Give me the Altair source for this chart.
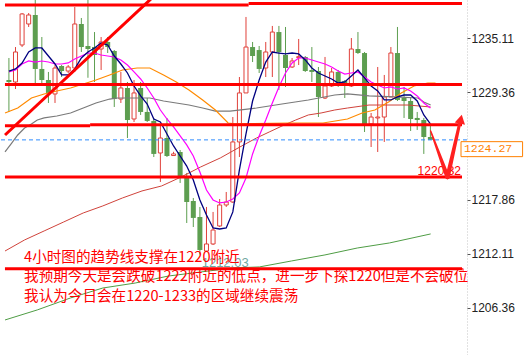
import altair as alt
import pandas as pd

# ---------------- 4-hour candles ----------------
opens = [1230.66, 1230.45, 1234.40, 1236.64, 1237.60, 1231.84, 1230.66, 1229.17, 1232.16, 1231.62,
         1231.94, 1236.64, 1234.29, 1234.18, 1233.97, 1234.72, 1233.76, 1228.63, 1229.81, 1226.50,
         1229.81, 1227.25, 1226.29, 1222.87, 1224.47, 1222.60, 1222.98, 1220.20, 1217.75, 1216.04,
         1212.41, 1213.16, 1215.08, 1217.32, 1217.64, 1224.05, 1229.28, 1234.18, 1233.86, 1231.94,
         1233.65, 1235.78, 1233.33, 1232.05, 1233.05, 1233.12, 1231.73, 1231.62, 1228.74, 1230.02,
         1231.52, 1230.56, 1230.02, 1233.97, 1233.54, 1225.97, 1226.61, 1226.71, 1228.85, 1233.54,
         1228.74, 1228.42, 1226.61, 1226.39, 1224.58]
highs = [1233.01, 1234.18, 1237.81, 1237.81, 1239.60, 1235.25, 1231.52, 1232.26, 1232.26, 1232.26,
         1238.45, 1237.28, 1239.60, 1235.78, 1235.25, 1235.25, 1233.86, 1231.52, 1230.45, 1230.66,
         1230.45, 1228.74, 1226.61, 1225.86, 1226.61, 1223.00, 1223.19, 1220.74, 1218.07, 1217.11,
         1217.11, 1216.58, 1217.96, 1218.71, 1226.71, 1230.98, 1237.39, 1234.72, 1234.29, 1234.72,
         1236.43, 1236.43, 1236.32, 1233.01, 1235.04, 1233.22, 1234.18, 1232.05, 1233.12, 1231.94,
         1231.73, 1230.66, 1235.14, 1235.78, 1233.65, 1227.14, 1232.05, 1231.20, 1234.18, 1236.32,
         1229.92, 1228.85, 1227.25, 1226.61, 1225.86]
lows = [1227.25, 1229.70, 1234.18, 1236.32, 1230.34, 1230.34, 1228.21, 1228.21, 1230.98, 1231.41,
        1231.52, 1233.65, 1230.90, 1230.45, 1231.73, 1233.54, 1227.78, 1228.21, 1224.47, 1226.18,
        1226.93, 1226.18, 1222.44, 1219.78, 1222.44, 1222.55, 1219.67, 1215.40, 1214.97, 1212.03,
        1212.31, 1213.05, 1214.97, 1217.11, 1217.54, 1222.44, 1229.28, 1232.58, 1231.41, 1230.98,
        1230.98, 1229.60, 1229.92, 1231.94, 1232.26, 1231.52, 1230.45, 1226.71, 1228.63, 1229.92,
        1229.92, 1228.74, 1229.92, 1233.44, 1225.11, 1223.51, 1222.98, 1224.05, 1228.85, 1228.42,
        1226.61, 1225.22, 1225.33, 1222.77, 1224.27]
closes = [1230.45, 1233.65, 1237.71, 1237.60, 1231.84, 1230.66, 1229.28, 1231.94, 1231.62, 1232.05,
          1236.64, 1234.18, 1233.97, 1233.33, 1234.72, 1234.18, 1228.63, 1229.81, 1226.39, 1229.28,
          1227.25, 1226.29, 1222.77, 1224.47, 1222.55, 1222.77, 1220.31, 1217.64, 1215.94, 1212.52,
          1213.16, 1214.65, 1217.32, 1217.64, 1224.05, 1229.28, 1234.18, 1233.22, 1231.84, 1233.65,
          1235.78, 1233.65, 1231.94, 1232.69, 1233.15, 1231.62, 1231.52, 1228.85, 1230.02, 1231.52,
          1230.34, 1230.02, 1233.97, 1233.54, 1225.97, 1226.71, 1226.71, 1228.85, 1233.54, 1228.53,
          1228.42, 1226.50, 1226.39, 1224.58, 1224.27]

# ---------------- moving averages ----------------
ma_navy = [1231.62, 1231.84, 1232.48, 1233.65, 1234.08, 1234.08, 1233.22, 1232.37, 1231.20, 1231.20,
           1231.84, 1233.01, 1233.65, 1234.08, 1234.61, 1234.40, 1233.22, 1232.37, 1231.41, 1230.02,
           1228.96, 1228.10, 1226.50, 1226.18, 1224.90, 1223.62, 1222.55, 1221.48, 1219.99, 1217.86,
           1216.26, 1214.87, 1214.76, 1214.87, 1216.58, 1221.06, 1224.90, 1228.42, 1230.66, 1232.58,
           1233.65, 1233.54, 1233.44, 1233.54, 1233.44, 1232.80, 1231.94, 1231.41, 1231.09, 1230.77,
           1230.34, 1230.45, 1231.09, 1231.73, 1230.88, 1230.02, 1229.49, 1228.53, 1228.53, 1228.85,
           1229.06, 1229.06, 1228.42, 1226.93, 1225.97]
ma_magenta = [1231.52, 1231.73, 1232.37, 1232.69, 1232.58, 1232.69, 1232.58, 1232.37, 1232.37, 1232.48,
              1232.90, 1233.22, 1233.54, 1233.54, 1233.33, 1233.22, 1233.12, 1232.80, 1232.26, 1231.52,
              1230.77, 1229.81, 1228.74, 1227.46, 1226.50, 1225.65, 1224.69, 1223.73, 1222.55, 1220.84,
              1218.92, 1217.86, 1217.54, 1217.64, 1217.96, 1218.60, 1220.20, 1222.77, 1224.69, 1226.39,
              1228.21, 1229.92, 1231.41, 1232.48, 1233.01, 1233.01, 1232.80, 1232.58, 1232.37, 1232.05,
              1231.62, 1231.30, 1231.41, 1231.52, 1230.98, 1230.45, 1230.13, 1229.81, 1229.92, 1229.70,
              1229.81, 1229.49, 1228.96, 1228.21, 1227.67]

orange_i = [-0.59, 1.34, 3.42, 5.35, 7.28, 9.36, 11.29, 13.22, 15.30, 17.24, 19.47, 21.40, 23.48,
            25.41, 27.34, 29.42, 31.35, 33.28, 34.32, 42.50, 47.70, 51.41, 53.64, 55.57, 57.65,
            59.58, 61.52, 63.60, 64.78]
orange_p = [1227.14, 1227.67, 1228.74, 1229.17, 1229.49, 1229.81, 1230.24, 1230.66, 1231.20, 1231.73,
            1231.94, 1231.94, 1231.20, 1230.45, 1229.60, 1228.53, 1227.46, 1226.07, 1225.97, 1226.07,
            1226.07, 1226.50, 1227.14, 1227.46, 1228.31, 1229.28, 1230.02, 1230.34, 1230.34]

gray_i = [-0.59, 0.45, 1.34, 2.38, 3.42, 4.31, 5.35, 7.28, 9.36, 11.29, 13.22, 15.30, 16.49, 21.40,
          23.48, 25.41, 27.34, 29.42, 31.35, 33.58, 37.59, 41.46, 45.47, 49.48, 51.41, 54.68, 58.54,
          62.11, 63.00, 64.04]
gray_p = [1222.98, 1223.94, 1224.79, 1225.54, 1225.97, 1226.39, 1226.61, 1226.82, 1227.14, 1227.67,
          1228.21, 1228.63, 1228.74, 1228.74, 1228.42, 1228.21, 1227.99, 1227.67, 1227.35, 1227.35,
          1227.67, 1228.10, 1228.53, 1229.06, 1229.17, 1228.96, 1228.85, 1228.74, 1228.31, 1227.99]

brown_i = [-0.59, 2.38, 5.35, 8.32, 11.29, 14.26, 17.24, 20.21, 23.18, 26.15, 29.12, 32.10, 35.07,
           37.59, 39.52, 41.46, 43.54, 45.47, 47.40, 49.48, 51.41, 54.68, 60.62, 64.04]
brown_p = [1212.41, 1213.59, 1214.55, 1215.51, 1216.47, 1217.22, 1218.07, 1218.82, 1219.35, 1220.31,
           1221.38, 1222.34, 1223.51, 1224.47, 1225.11, 1225.75, 1226.39, 1226.93, 1227.14, 1227.46,
           1227.67, 1227.99, 1227.99, 1227.78]

green_i = [-0.59, 4.31, 9.36, 14.26, 19.17, 24.22, 29.12, 34.03, 38.04, 42.94, 47.99, 52.90, 57.80, 64.04]
green_p = [1205.05, 1206.12, 1207.40, 1208.46, 1208.99, 1209.74, 1210.17, 1210.60, 1210.71, 1211.35,
           1211.99, 1212.73, 1213.27, 1214.23]

# ---------------- drawn levels and notes ----------------
level_start = [-0.6, 36.4, -0.6, -0.6, 12.33, -0.6, -0.6]
level_end = [36.4, 68.8, 68.8, 12.33, 68.8, 68.8, 68.8]
level_price = [1238.67, 1238.83, 1230.18, 1225.79, 1225.89, 1220.32, 1210.52]

trend_i = [-0.59, 23.0]
trend_p = [1224.79, 1240.25]

last_price = 1224.27
axis_values = [1206.36, 1212.11, 1217.86, 1229.36, 1235.11]

notes = [
    "4小时图的趋势线支撑在1220附近",
    "我预期今天是会跌破1222附近的低点，进一步下探1220但是不会破位",
    "我认为今日会在1220-1233的区域继续震荡",
]
notes_i = [2.30, 2.30, 2.30]
notes_p = [1211.63, 1209.61, 1207.54]

arrow_i = [64.04, 66.61, 66.61, 68.43]
arrow_p = [1225.22, 1220.31, 1220.31, 1225.97]
arrow_w = [1.5, 4.5, 4.5, 3.0]
arrow_seg = ["down", "down", "up", "up"]

RED = "#ff0000"
CANDLE_RED = "#e0403a"
CANDLE_GREEN = "#5d9e50"

xscale = alt.Scale(domain=[-0.594, 68.8], nice=False, zero=False)
yscale = alt.Scale(domain=[1201.31, 1239.20], nice=False, zero=False)
yaxis = alt.Axis(orient="right", values=axis_values, format=".2f", title=None, grid=False,
                 domain=True, domainColor="#c4c4c4", domainDash=[1, 2], domainWidth=1,
                 ticks=True, tickSize=3, tickColor="#555555", tickWidth=1,
                 labelFont="Liberation Sans", labelFontSize=12, labelColor="#222222",
                 labelPadding=1)


def X(field):
    return alt.X(f"{field}:Q", scale=xscale, axis=None)


def Y(field):
    return alt.Y(f"{field}:Q", scale=yscale, axis=yaxis)


candles = pd.DataFrame({"i": list(range(len(opens))), "o": opens, "h": highs, "l": lows, "c": closes})
candles["dir"] = ["up" if c >= o else "down" for o, c in zip(opens, closes)]

base = alt.Chart(candles)
wicks = base.mark_rule(strokeWidth=1).encode(
    x=X("i"), y=Y("l"), y2="h",
    color=alt.Color("dir:N", scale=alt.Scale(domain=["up", "down"], range=[CANDLE_RED, CANDLE_GREEN]),
                    legend=None),
)
up_bodies = base.transform_filter("datum.dir == 'up'").mark_bar(
    size=4, fill="white", stroke=CANDLE_RED, strokeWidth=1
).encode(x=X("i"), y=Y("o"), y2="c")
down_bodies = base.transform_filter("datum.dir == 'down'").mark_bar(
    size=5, color=CANDLE_GREEN
).encode(x=X("i"), y=Y("o"), y2="c")


def ma_line(xs, ps, color, width):
    df = pd.DataFrame({"i": xs, "p": ps})
    return alt.Chart(df).mark_line(color=color, strokeWidth=width, clip=True).encode(x=X("i"), y=Y("p"))


idx = list(range(len(opens)))
green_ma = ma_line(green_i, green_p, "#4f9d45", 1)
brown_ma = ma_line(brown_i, brown_p, "#d0433b", 1)
gray_ma = ma_line(gray_i, gray_p, "#7a7a7a", 1.2)
orange_ma = ma_line(orange_i, orange_p, "#ff8a00", 1.2)
magenta_ma = ma_line(idx, ma_magenta, "#ff00ff", 1.2)
navy_ma = ma_line(idx, ma_navy, "#000080", 1.3)

last_line = alt.Chart(pd.DataFrame({"p": [last_price]})).mark_rule(
    color="#2f8cff", strokeWidth=1, strokeDash=[4, 3]
).encode(y=Y("p"))

levels = alt.Chart(pd.DataFrame({"x0": level_start, "x1": level_end, "p": level_price})).mark_rule(
    color=RED, strokeWidth=3, clip=True
).encode(x=X("x0"), x2="x1", y=Y("p"))

trend = alt.Chart(pd.DataFrame({"i": trend_i, "p": trend_p})).mark_line(
    color=RED, strokeWidth=3, clip=True
).encode(x=X("i"), y=Y("p"))

low_label = alt.Chart(pd.DataFrame({"i": [29.27], "p": [1211.13], "t": ["1212.03"]})).mark_text(
    align="left", baseline="middle", font="Liberation Sans", fontSize=13, color="#6fa8a0"
).encode(x=X("i"), y=Y("p"), text="t:N")

note_text = alt.Chart(pd.DataFrame({"i": notes_i, "p": notes_p, "t": notes})).mark_text(
    align="left", baseline="middle", font="Noto Sans CJK SC", fontSize=14.6, color=RED
).encode(x=X("i"), y=Y("p"), text="t:N")

support_label = alt.Chart(pd.DataFrame({"i": [68.65], "p": [1220.52], "t": ["1220.32"]})).mark_text(
    align="right", baseline="alphabetic", font="Liberation Sans", fontSize=12, color=RED
).encode(x=X("i"), y=Y("p"), text="t:N")

arrow = alt.Chart(pd.DataFrame({"i": arrow_i, "p": arrow_p, "w": arrow_w, "seg": arrow_seg})).mark_trail(
    color="#ff2020"
).encode(x=X("i"), y=Y("p"), size=alt.Size("w:Q", scale=None, legend=None), detail="seg:N")

arrow_head = alt.Chart(pd.DataFrame({"i": [68.62], "p": [1226.48]})).mark_point(
    shape="triangle-up", filled=True, size=110, angle=12, color="#ff2020", opacity=1
).encode(x=X("i"), y=Y("p"))

price_box = alt.Chart(pd.DataFrame({"x0": [68.65], "x1": [78.0], "p0": [1224.08], "p1": [1222.48]})).mark_rect(
    fill="white", stroke="#ff8000", strokeWidth=1
).encode(x=X("x0"), x2="x1", y=Y("p0"), y2="p1")

price_text = alt.Chart(pd.DataFrame({"i": [69.09], "p": [1223.27], "t": [f"{last_price:.2f}"]})).mark_text(
    align="left", baseline="middle", font="Liberation Mono", fontSize=11.5, color="#ff8000"
).encode(x=X("i"), y=Y("p"), text="t:N")

chart = alt.layer(
    wicks, up_bodies, down_bodies,
    green_ma, brown_ma, gray_ma, orange_ma, magenta_ma, navy_ma,
    last_line, levels, trend,
    low_label, note_text, support_label, arrow, arrow_head,
    price_box, price_text,
).properties(
    width=467, height=355,
    padding={"left": 0, "top": 0, "right": 57, "bottom": 0},
    autosize=alt.AutoSizeParams(type="none"),
    background="white",
).configure_view(strokeWidth=0)

chart.save("out.html", embed_options={"renderer": "svg", "actions": False})
